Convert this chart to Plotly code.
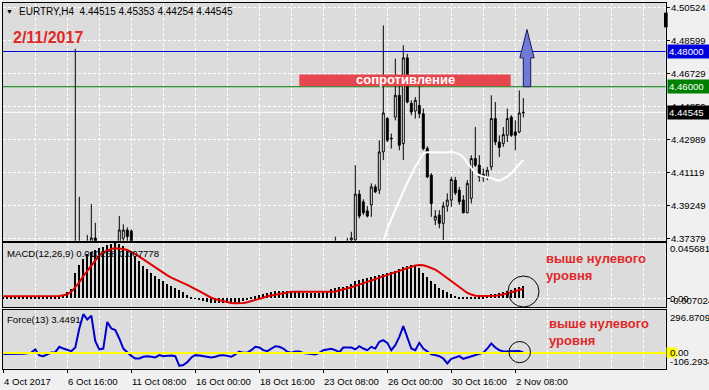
import plotly.graph_objects as go

# ---------------- data ----------------
time_labels = ["4 Oct 2017", "6 Oct 16:00", "11 Oct 08:00", "16 Oct 00:00",
               "18 Oct 16:00", "23 Oct 08:00", "26 Oct 00:00", "30 Oct 16:00", "2 Nov 08:00"]
time_label_bars = [0, 16, 32, 48, 64, 80, 96, 112, 128]

price_ticks = [4.37379, 4.39249, 4.41119, 4.42989, 4.44859, 4.46729, 4.48599, 4.50524]

candle_bar = [18, 19, 21, 22, 23, 29, 30, 31, 32, 83, 86, 87,
              88, 89, 90, 91, 92, 93, 94, 95, 96, 97, 98, 99, 100, 101, 102, 103, 104,
              105, 106, 107, 108, 109, 110, 111, 112, 113, 114, 115, 116, 117, 118, 119,
              120, 121, 122, 123, 124, 125, 126, 127, 128, 129, 130]
candle_open = [4.3450, 4.3560, 4.3550, 4.3650, 4.3741, 4.3680, 4.3739, 4.3786, 4.3780, 4.3680, 4.3690, 4.3730,
               4.3730, 4.3990, 4.3946, 4.3895, 4.3928, 4.4031, 4.4013, 4.4230, 4.4419, 4.4308, 4.4428, 4.4551,
               4.4277, 4.4764, 4.4506, 4.4462, 4.4494, 4.4447, 4.4249, 4.4098, 4.3843, 4.3871, 4.3824, 4.3922,
               4.3956, 4.4069, 4.4013, 4.3956, 4.3884, 4.3966, 4.4192, 4.4154, 4.4103, 4.4088, 4.4145, 4.4419,
               4.4286, 4.4277, 4.4324, 4.4428, 4.4343, 4.4343, 4.44515]
candle_high = [4.4815, 4.3975, 4.3758, 4.3933, 4.3827, 4.3865, 4.3818, 4.3801, 4.3790, 4.3748, 4.3741, 4.3776,
               4.4154, 4.4013, 4.3960, 4.3922, 4.4051, 4.4045, 4.4296, 4.4948, 4.4428, 4.4334, 4.4759, 4.4625,
               4.4835, 4.4787, 4.4523, 4.4541, 4.4608, 4.4476, 4.4262, 4.4109, 4.3899, 4.3899, 4.3946, 4.3994,
               4.4088, 4.4088, 4.4031, 4.3984, 4.4069, 4.4211, 4.4371, 4.4211, 4.4136, 4.4145, 4.4551, 4.4513,
               4.4324, 4.4371, 4.4476, 4.4438, 4.4409, 4.4579, 4.45353]
candle_low = [4.3400, 4.3450, 4.3480, 4.3620, 4.3640, 4.3660, 4.3700, 4.3700, 4.3640, 4.3650, 4.3670, 4.3700,
              4.3715, 4.3852, 4.3871, 4.3858, 4.3861, 4.3996, 4.3990, 4.4183, 4.4286, 4.4249, 4.4409, 4.4239,
              4.4183, 4.4506, 4.4438, 4.4419, 4.4421, 4.4239, 4.4081, 4.3861, 4.3814, 4.3796, 4.3729, 4.3890,
              4.3918, 4.3984, 4.3928, 4.3881, 4.3881, 4.3937, 4.4145, 4.4060, 4.4060, 4.4069, 4.4126, 4.4268,
              4.4201, 4.4258, 4.4286, 4.4315, 4.4239, 4.4336, 4.44254]
candle_close = [4.3560, 4.3500, 4.3600, 4.3741, 4.3660, 4.3786, 4.3786, 4.3749, 4.3660, 4.3700, 4.3700, 4.3741,
                4.3990, 4.3865, 4.3884, 4.3865, 4.4031, 4.4003, 4.4230, 4.4451, 4.4296, 4.4304, 4.4551, 4.4268,
                4.4764, 4.4513, 4.4456, 4.4523, 4.4447, 4.4249, 4.4088, 4.3937, 4.3864, 4.3824, 4.3922, 4.3956,
                4.4073, 4.3997, 4.3946, 4.3884, 4.4051, 4.4192, 4.4154, 4.4088, 4.4085, 4.4126, 4.4419, 4.4286,
                4.4255, 4.4328, 4.4419, 4.4324, 4.4324, 4.4451, 4.44545]

ma_bar = list(range(94, 131))
ma_value = [4.3650, 4.3725, 4.3792, 4.3847, 4.3902, 4.3956, 4.4005, 4.4053, 4.4102, 4.4145, 4.4183, 4.4221,
            4.4228, 4.4230, 4.4228, 4.4226, 4.4226, 4.4228, 4.4231, 4.4225, 4.4217, 4.4200, 4.4166, 4.4137,
            4.4112, 4.4097, 4.4090, 4.4086, 4.4081, 4.4072, 4.4066, 4.4077, 4.4089, 4.4109, 4.4135, 4.4160, 4.4185]

macd_main = [0.0005, 0.0006, 0.0004, 0.0005, 0.0006, 0.0005, 0.0004, 0.0006, 0.0008, 0.0006, 0.0004, 0.0005,
             0.0006, 0.0008, 0.0015, 0.0030, 0.0053, 0.0074, 0.0212, 0.0275, 0.0327, 0.0362, 0.0385, 0.0399,
             0.0413, 0.0425, 0.0440, 0.0452, 0.0457, 0.0448, 0.0430, 0.0410, 0.0385, 0.0350, 0.0312, 0.0269,
             0.0240, 0.0212, 0.0183, 0.0160, 0.0139, 0.0119, 0.0102, 0.0082, 0.0067, 0.0048, 0.0030, 0.0010,
             -0.0005, -0.0013, -0.0022, -0.0030, -0.0036, -0.0039, -0.0040, -0.0041, -0.0040, -0.0040, -0.0039,
             -0.0036, -0.0027, -0.0013, 0.0002, 0.0016, 0.0027, 0.0036, 0.0044, 0.0050, 0.0056, 0.0059, 0.0059,
             0.0056, 0.0053, 0.0053, 0.0050, 0.0047, 0.0044, 0.0044, 0.0044, 0.0047, 0.0053, 0.0062, 0.0073,
             0.0082, 0.0091, 0.0096, 0.0102, 0.0115, 0.0139, 0.0154, 0.0160, 0.0166, 0.0174, 0.0183, 0.0191,
             0.0200, 0.0209, 0.0217, 0.0226, 0.0240, 0.0255, 0.0269, 0.0275, 0.0269, 0.0246, 0.0212, 0.0177,
             0.0142, 0.0117, 0.0088, 0.0067, 0.0053, 0.0033, 0.0022, 0.0010, 0.0004, 0.0004, 0.0007, 0.0007,
             0.0010, 0.0013, 0.0022, 0.0033, 0.0039, 0.0044, 0.0050, 0.0059, 0.0070, 0.0082, 0.0092, 0.010258]
macd_signal = [0.0016, 0.0016, 0.0015, 0.0015, 0.0016, 0.0016, 0.0015, 0.0015, 0.0016, 0.0017, 0.0016, 0.0015,
               0.0015, 0.0016, 0.0018, 0.0024, 0.0033, 0.0053, 0.0091, 0.0131, 0.0183, 0.0226, 0.0275, 0.0318,
               0.0355, 0.0379, 0.0396, 0.0407, 0.0413, 0.0413, 0.0407, 0.0399, 0.0385, 0.0365, 0.0344, 0.0321,
               0.0298, 0.0275, 0.0252, 0.0229, 0.0209, 0.0189, 0.0171, 0.0154, 0.0139, 0.0125, 0.0111, 0.0096,
               0.0076, 0.0059, 0.0039, 0.0022, 0.0004, -0.0008, -0.0016, -0.0025, -0.0033, -0.0039, -0.0042,
               -0.0042, -0.0039, -0.0033, -0.0025, -0.0013, -0.0005, 0.0004, 0.0016, 0.0022, 0.0030, 0.0036,
               0.0044, 0.0050, 0.0053, 0.0053, 0.0053, 0.0053, 0.0053, 0.0047, 0.0047, 0.0047, 0.0047, 0.0050,
               0.0053, 0.0056, 0.0064, 0.0070, 0.0078, 0.0090, 0.0102, 0.0112, 0.0125, 0.0136, 0.0148, 0.0158,
               0.0170, 0.0181, 0.0192, 0.0202, 0.0215, 0.0228, 0.0240, 0.0252, 0.0263, 0.0271, 0.0275, 0.0272,
               0.0262, 0.0250, 0.0236, 0.0215, 0.0192, 0.0166, 0.0143, 0.0118, 0.0093, 0.0068, 0.0045, 0.0030,
               0.0020, 0.0018, 0.0017, 0.0017, 0.0018, 0.0020, 0.0024, 0.0030, 0.0040, 0.0049, 0.0058, 0.0067,
               0.007778]
force_value = [-8, -8, -8, -8, -8, -6, -2, 2, 24, -17, -22, -8, 3, 5, 42, 30, 19, 12, 37, 167, 265, 229, 255,
               80, 24, 30, 212, 167, 156, 99, 30, 5, -20, -38, -38, -26, -22, -26, -31, -15, -22, -20, -17, -22,
               -88, -83, -63, -31, -15, -17, -22, -26, -31, -26, -17, -15, -22, -26, -10, 10, 2, 3, 19, 42, 37,
               19, 12, 30, 46, 42, 30, 8, 2, 10, 10, 0, -3, -10, -10, 0, 19, 24, 28, 19, 5, 37, 37, 37, 24, 46,
               30, 19, 42, 30, 76, 87, 69, 19, 53, 110, 183, 99, 30, 19, 69, 30, 8, -10, -15, -22, -38, -72,
               -40, -31, -22, -40, -31, -22, -15, -3, 2, 30, 65, 37, 19, 10, 10, 12, 15, 14, 3.4491]

level_blue = 4.48000
level_green = 4.46000
level_bid = 4.44545
macd_max, macd_min = 0.045681, -0.007024
force_max, force_min = 296.8709, -106.2934

# ---------------- layout helpers ----------------
W, H = 709, 390
def PX(x):
    return x / W
def PY(y):
    return 1 - y / H

X_LEFT, X_RIGHT = 3, 665.5
MAIN_T, MAIN_B = 3, 240.7
MACD_T, MACD_B = 243, 306.7
FRC_T, FRC_B = 309.5, 368.5
# bar index -> pixel: 3.3 + 4*i
XR = [(X_LEFT - 3.3) / 4, (X_RIGHT - 3.3) / 4]
def price_at(ypx):
    return 4.37379 + (238.5 - ypx) * 0.000568

BG = "#dcdcdc"
PAPER = "#f0f0f0"
FONT = "Liberation Sans"
FS = 9.6
BLUE = "#0000dc"
GRID = dict(showgrid=True, gridcolor="white", gridwidth=1, griddash="3px,2px")

fig = go.Figure()

fig.add_trace(go.Candlestick(
    x=candle_bar, open=candle_open, high=candle_high, low=candle_low, close=candle_close,
    xaxis="x", yaxis="y", whiskerwidth=0,
    increasing=dict(fillcolor="white", line=dict(color="black", width=1)),
    decreasing=dict(fillcolor="black", line=dict(color="black", width=1)),
    hoverinfo="skip", showlegend=False))
fig.add_trace(go.Scatter(x=ma_bar, y=ma_value, mode="lines", line=dict(color="white", width=2),
                         xaxis="x", yaxis="y", hoverinfo="skip", showlegend=False))

bars = list(range(len(macd_main)))
fig.add_trace(go.Bar(x=bars, y=macd_main, width=0.22, marker=dict(color="black", line=dict(width=0)),
                     xaxis="x2", yaxis="y2", hoverinfo="skip", showlegend=False))
fig.add_trace(go.Scatter(x=bars, y=macd_signal, mode="lines", line=dict(color="#e00000", width=2),
                         xaxis="x2", yaxis="y2", hoverinfo="skip", showlegend=False))
fig.add_trace(go.Scatter(x=list(range(len(force_value))), y=force_value, mode="lines",
                         line=dict(color="#0000cc", width=2),
                         xaxis="x3", yaxis="y3", hoverinfo="skip", showlegend=False))

frame = dict(showline=True, linecolor="black", linewidth=1, mirror=True, zeroline=False)
xdom = [PX(X_LEFT), PX(X_RIGHT)]
xcommon = dict(domain=xdom, range=XR, tickmode="linear", tick0=0, dtick=8,
               showticklabels=False, ticks="", **frame, **GRID)

fig.update_layout(
    width=W, height=H, margin=dict(l=0, r=0, t=0, b=0),
    paper_bgcolor=PAPER, plot_bgcolor=BG, showlegend=False, hovermode=False,
    font=dict(family=FONT, size=FS, color="black"), bargap=0,
    xaxis=dict(anchor="y", rangeslider=dict(visible=False), **xcommon),
    xaxis2=dict(anchor="y2", matches="x", **xcommon),
    xaxis3=dict(anchor="y3", matches="x", domain=xdom, range=XR,
                tickmode="array", tickvals=time_label_bars, showticklabels=False,
                ticks="outside", ticklen=3, tickcolor="black", **frame, **GRID,
                minor=dict(tickmode="linear", tick0=0, dtick=8, showgrid=True, gridcolor="white",
                           griddash="3px,2px", ticks="")),
    yaxis=dict(anchor="x", domain=[PY(MAIN_B), PY(MAIN_T)], range=[price_at(MAIN_B), price_at(MAIN_T)],
               side="right", tickmode="array", tickvals=price_ticks, showticklabels=False,
               ticks="outside", ticklen=3, tickcolor="black", **frame, **GRID),
    yaxis2=dict(anchor="x2", domain=[PY(MACD_B), PY(MACD_T)], range=[macd_min, macd_max],
                side="right", tickmode="array", tickvals=[0], showticklabels=False,
                ticks="outside", ticklen=3, tickcolor="black", **frame, **GRID),
    yaxis3=dict(anchor="x3", domain=[PY(FRC_B), PY(FRC_T)], range=[force_min, force_max],
                side="right", tickmode="array", tickvals=[0], showticklabels=False,
                ticks="outside", ticklen=3, tickcolor="black", showgrid=False, **frame),
)

shapes = []
# horizontal price levels
for lvl, col in [(level_blue, BLUE), (level_green, "#008000"), (level_bid, "white")]:
    shapes.append(dict(type="line", xref="paper", yref="y", x0=PX(X_LEFT), x1=PX(X_RIGHT), y0=lvl, y1=lvl,
                       line=dict(color=col, width=1), layer="below"))
# resistance box
shapes.append(dict(type="rect", xref="x", yref="y", x0=74.0, x1=126.85, y0=4.4603, y1=4.4670,
                   fillcolor="#e6474f", line=dict(width=0), layer="above"))
# up arrow
ax_l, ax_r, ah_l, ah_r, a_tip = 130.0, 131.85, 129.15, 132.7, 130.92
ay_b, ay_h, ay_t = 4.4600, 4.4764, 4.4925
shapes.append(dict(type="path", xref="x", yref="y",
                   path=f"M {ax_l},{ay_b} L {ax_l},{ay_h} L {ah_l},{ay_h} L {a_tip},{ay_t} "
                        f"L {ah_r},{ay_h} L {ax_r},{ay_h} L {ax_r},{ay_b} Z",
                   fillcolor="#6f7ad6", line=dict(color="#1a1a50", width=1), layer="above"))
# force zero level (yellow)
shapes.append(dict(type="line", xref="paper", yref="y3", x0=PX(X_LEFT), x1=PX(X_RIGHT), y0=0, y1=0,
                   line=dict(color="#ffff00", width=2), layer="above"))
# circles
shapes.append(dict(type="circle", xref="paper", yref="paper", x0=PX(508), x1=PX(539),
                   y0=PY(307), y1=PY(276), line=dict(color="black", width=1), layer="above"))
shapes.append(dict(type="circle", xref="paper", yref="paper", x0=PX(509), x1=PX(530.5),
                   y0=PY(362.7), y1=PY(341.5), line=dict(color="black", width=1), layer="above"))
# chart shift marker
shapes.append(dict(type="rect", xref="paper", yref="paper", x0=PX(664), x1=PX(667.7),
                   y0=PY(27.3), y1=PY(12.7), fillcolor="black", line=dict(width=0), layer="above"))
# yellow tag behind force 0.00
shapes.append(dict(type="rect", xref="paper", yref="paper", x0=PX(666.5), x1=PX(677),
                   y0=PY(357.5), y1=PY(347.5), fillcolor="#ffff00", line=dict(width=0), layer="above"))
fig.update_layout(shapes=shapes)

ann = []
def text(t, x, y, size=FS, color="black", bold=False, xanchor="left", bg=None, width=None,
         xref="paper", yref="paper"):
    d = dict(text=("<b>%s</b>" % t) if bold else t, xref=xref, yref=yref,
             x=PX(x) if xref == "paper" else x, y=PY(y) if yref == "paper" else y,
             xanchor=xanchor, yanchor="middle", showarrow=False,
             font=dict(family=FONT, size=size, color=color), align="left", borderpad=0)
    if bg:
        d.update(bgcolor=bg, borderpad=1)
    if width:
        d.update(width=width)
    ann.append(d)

# right price scale
for v in price_ticks:
    text("%.5f" % v, 670, v, yref="y")
text("%.5f" % level_blue, 667, level_blue, color="white", bg=BLUE, width=40, yref="y")
text("%.5f" % level_green, 667, level_green, color="white", bg="#008000", width=40, yref="y")
text("%.5f" % level_bid, 667, level_bid, color="white", bg="black", width=40, yref="y")
# time scale
for b, lab in zip(time_label_bars, time_labels):
    text(lab, b, 381, xref="x3")

text("▼", 5, 11, size=7)
text("EURTRY,H4  4.44515 4.45353 4.44254 4.44545", 17.5, 11, size=10)
text("2/11/2017", 11.5, 37, size=16, color="#e02828", bold=True)
text("сопротивление", 405, 79.5, size=13, color="white", bold=True, xanchor="center")
text("MACD(12,26,9) 0.010258 0.007778", 6, 253)
text("%.6f" % macd_max, 669, 248.5)
text("0.00", 669, 298)
text("%.6f" % macd_min, 669, 300)
text("Force(13) 3.4491", 6, 319)
text("%.4f" % force_max, 669, 317)
text("0.00", 669, 352)
text("%.4f" % force_min, 669, 361.5)
text("выше нулевого", 545, 258, size=13, color="#e02828", bold=True)
text("уровня", 545, 275, size=13, color="#e02828", bold=True)
text("выше нулевого", 548, 323.5, size=13, color="#e02828", bold=True)
text("уровня", 548, 340, size=13, color="#e02828", bold=True)
fig.update_layout(annotations=ann)

fig.write_html("out.html", config={"displayModeBar": False},
               post_script="document.body.style.margin='0';document.body.style.overflow='hidden';")
